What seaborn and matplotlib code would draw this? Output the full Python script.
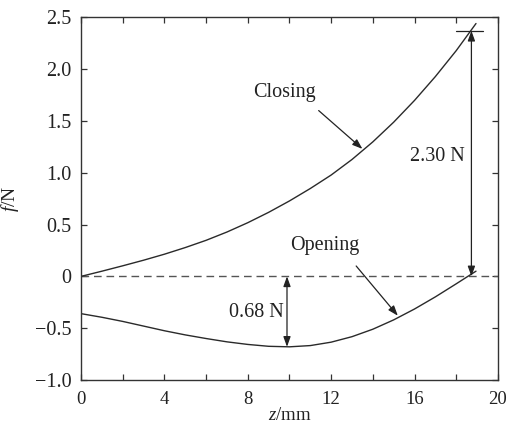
import matplotlib
matplotlib.use("Agg")
import matplotlib.pyplot as plt
import seaborn as sns
import pandas as pd
from matplotlib.ticker import MultipleLocator, FixedLocator

# ---- data ----
z_closing = [0, 1, 2, 3, 4, 5, 6, 7, 8, 9, 10, 11, 12, 13, 14, 15, 16, 17, 18, 18.95]
f_closing = [0.0, 0.05, 0.102, 0.156, 0.214, 0.278, 0.348, 0.428, 0.518, 0.618, 0.728,
             0.848, 0.978, 1.128, 1.298, 1.488, 1.698, 1.928, 2.178, 2.44]
z_opening = [0, 1, 2, 3, 4, 5, 6, 7, 8, 9, 10, 11, 12, 13, 14, 15, 16, 17, 18, 18.95]
f_opening = [-0.36, -0.395, -0.435, -0.48, -0.525, -0.565, -0.60, -0.632, -0.657, -0.675,
             -0.68, -0.668, -0.635, -0.582, -0.51, -0.42, -0.315, -0.198, -0.072, 0.05]
series_names = ["Closing", "Opening"]
x_ticks = [0, 4, 8, 12, 16, 20]
y_ticks = [-1.0, -0.5, 0, 0.5, 1.0, 1.5, 2.0, 2.5]
y_tick_labels = ["\u22121.0", "\u22120.5", "0", "0.5", "1.0", "1.5", "2.0", "2.5"]
closing_delta = 2.37   # drawn height of the 2.30 N dimension
opening_delta = -0.68  # drawn depth of the 0.68 N dimension

sns.set_theme(style="ticks")
plt.rcParams["font.family"] = ["Liberation Serif", "DejaVu Serif"]
plt.rcParams["mathtext.fontset"] = "custom"
plt.rcParams["mathtext.rm"] = "Liberation Serif"
plt.rcParams["mathtext.it"] = "Liberation Serif:italic"

df = pd.concat([
    pd.DataFrame({"z": z_closing, "f": f_closing, "s": series_names[0]}),
    pd.DataFrame({"z": z_opening, "f": f_opening, "s": series_names[1]}),
])

fig = plt.figure(figsize=(5.07, 4.23), dpi=100)
ax = fig.add_axes([0.160, 0.1017, 0.822, 0.8574])

line_col = "#2a2a2a"
sns.lineplot(data=df, x="z", y="f", units="s", estimator=None, color=line_col,
             linewidth=1.0, ax=ax, legend=False)

ax.axhline(0, color="#555555", linewidth=1.0, linestyle=(0, (5.5, 3.5)), zorder=1)

ax.set_xlim(0, 20)
ax.set_ylim(-1.0, 2.5)
ax.xaxis.set_major_locator(FixedLocator(x_ticks))
ax.xaxis.set_minor_locator(MultipleLocator(2))
ax.yaxis.set_major_locator(FixedLocator(y_ticks))
ax.set_yticklabels(y_tick_labels)
ax.tick_params(which="both", direction="in", top=True, right=True, length=4,
               width=0.9, color="#333333", labelcolor="#222222")
ax.tick_params(axis="x", labelsize=13.5, pad=8)
ax.tick_params(axis="y", labelsize=14.5, pad=7)
for sp in ax.spines.values():
    sp.set_color("#333333")
    sp.set_linewidth(1.0)

ax.set_xlabel("$z$/mm", fontsize=13.5, color="#222222", labelpad=-1)
ax.set_ylabel("$f$/N", fontsize=14, color="#222222", labelpad=10)

txt_kw = dict(fontsize=14.5, color="#222222", ha="center", va="center")
arrow_kw = dict(arrowstyle="-|>,head_length=0.5,head_width=0.18", color="#222222",
                lw=0.9, shrinkA=0, shrinkB=0)
dbl_kw = dict(arrowstyle="<|-|>,head_length=0.5,head_width=0.18", color="#222222",
              lw=0.9, shrinkA=0, shrinkB=0)

ax.text(9.74, 1.77, series_names[0], **txt_kw)
ax.annotate("", xy=(13.5, 1.23), xytext=(11.4, 1.60), arrowprops=arrow_kw)
ax.text(11.7, 0.30, series_names[1], **txt_kw)
ax.annotate("", xy=(15.2, -0.38), xytext=(13.2, 0.10), arrowprops=arrow_kw)

ax.annotate("", xy=(18.73, closing_delta), xytext=(18.73, 0), arrowprops=dbl_kw)
ax.plot([18.0, 19.3], [closing_delta, closing_delta], color="#222222", lw=0.9)
ax.text(17.1, 1.16, "2.30 N", **txt_kw)

ax.annotate("", xy=(9.88, opening_delta), xytext=(9.88, 0), arrowprops=dbl_kw)
ax.text(8.42, -0.35, "0.68 N", **txt_kw)

fig.savefig("out.png", dpi=100)
